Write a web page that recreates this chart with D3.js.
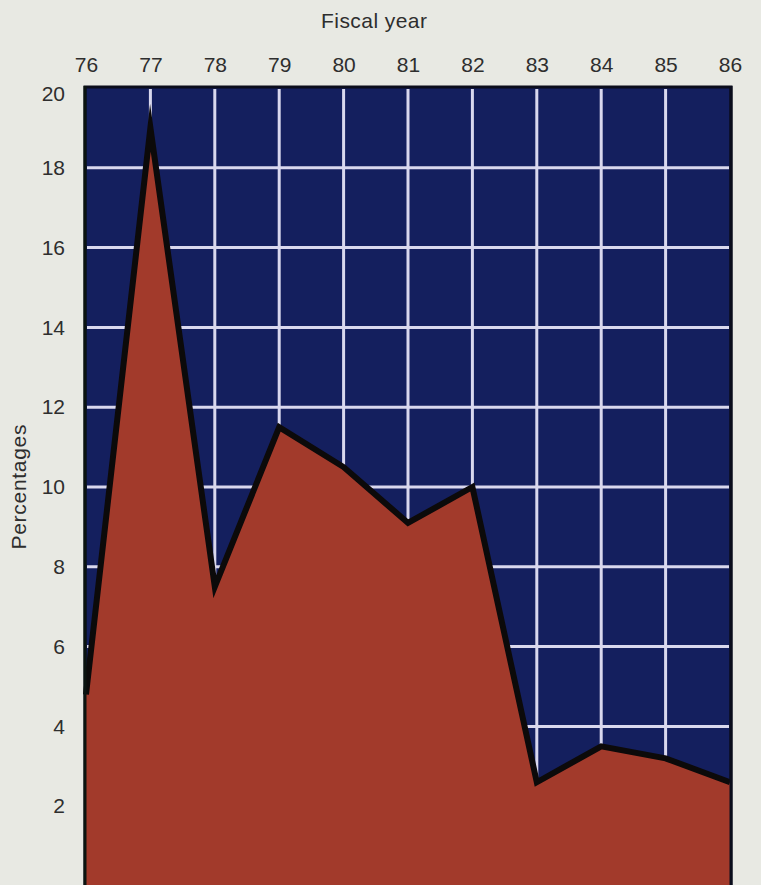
<!DOCTYPE html>
<html>
<head>
<meta charset="utf-8">
<script src="https://cdn.jsdelivr.net/npm/d3@7"></script>
<style>
  html, body { margin: 0; padding: 0; background: #e8e9e3; }
  svg { display: block; }
  text { font-family: "Liberation Sans", Arial, sans-serif; fill: #2e2e2e; }
</style>
</head>
<body>
<svg id="chart" width="761" height="885"></svg>
<script>
// Fiscal years shown along the top axis
const years = [76, 77, 78, 79, 80, 81, 82, 83, 84, 85, 86];
// Percentage for each fiscal year
const percentages = [4.8, 19.0, 7.5, 11.5, 10.5, 9.1, 10.0, 2.6, 3.5, 3.2, 2.6];
// Labelled ticks on the vertical axis
const yTicks = [2, 4, 6, 8, 10, 12, 14, 16, 18, 20];

const svg = d3.select("#chart");
const plotLeft = 86, plotRight = 730, plotTop = 88, plotBottom = 886;

const x = d3.scaleLinear().domain([76, 86]).range([plotLeft, plotRight]);
const y = d3.scaleLinear().domain([0, 20]).range([plotBottom, plotTop]);

// navy plot panel with dark frame
svg.append("rect")
  .attr("x", plotLeft - 1).attr("y", plotTop - 1)
  .attr("width", plotRight - plotLeft + 2).attr("height", plotBottom - plotTop + 10)
  .attr("fill", "#141f5e")
  .attr("stroke", "#0b0d1c").attr("stroke-width", 3);

// grid
const grid = svg.append("g").attr("stroke", "#d9d8ee").attr("stroke-width", 3);
grid.selectAll("line.v").data(years.slice(1, -1)).join("line")
  .attr("class", "v")
  .attr("x1", d => x(d)).attr("x2", d => x(d))
  .attr("y1", plotTop + 1).attr("y2", plotBottom);
grid.selectAll("line.h").data(yTicks.filter(d => d < 20)).join("line")
  .attr("class", "h")
  .attr("x1", plotLeft + 1).attr("x2", plotRight - 1)
  .attr("y1", d => y(d)).attr("y2", d => y(d));

const pts = years.map((yr, i) => ({ yr, v: percentages[i] }));

// filled area
const area = d3.area().x(d => x(d.yr)).y0(plotBottom + 10).y1(d => y(d.v));
svg.append("path").datum(pts)
  .attr("d", area)
  .attr("fill", "#a23a2b");

// outline of the area
const line = d3.line().x(d => x(d.yr)).y(d => y(d.v));
svg.append("path").datum(pts)
  .attr("d", line)
  .attr("fill", "none")
  .attr("stroke", "#0c0a0a")
  .attr("stroke-width", 6)
  .attr("stroke-linejoin", "miter")
  .attr("stroke-miterlimit", 10);

// frame edges on top
svg.append("line").attr("x1", plotLeft - 1).attr("x2", plotLeft - 1)
  .attr("y1", plotTop - 2).attr("y2", 885)
  .attr("stroke", "#0b1410").attr("stroke-width", 3);
svg.append("line").attr("x1", plotRight + 1).attr("x2", plotRight + 1)
  .attr("y1", plotTop - 2).attr("y2", 885)
  .attr("stroke", "#0b0d1c").attr("stroke-width", 3);

// top axis (fiscal year)
const xAxis = d3.axisTop(x).tickValues(years).tickSize(0).tickPadding(0);
const gx = svg.append("g").attr("transform", `translate(0, ${plotTop - 16})`).call(xAxis);
gx.select(".domain").remove();
gx.attr("font-size", 21).attr("font-family", null);
gx.selectAll("text").attr("fill", "#2e2e2e");

// left axis (percentages)
const yAxis = d3.axisLeft(y).tickValues(yTicks).tickSize(0).tickPadding(0);
const gy = svg.append("g").attr("transform", `translate(${plotLeft - 21}, 0)`).call(yAxis);
gy.select(".domain").remove();
gy.attr("font-size", 21).attr("font-family", null);
gy.selectAll("text").attr("fill", "#2e2e2e");
// nudge the top label down so it stays inside the frame height
gy.selectAll(".tick").filter(d => d === 20).select("text").attr("dy", "0.6em");

// titles
svg.append("text")
  .attr("x", 374).attr("y", 28)
  .attr("text-anchor", "middle")
  .attr("font-size", 21)
  .attr("textLength", 106)
  .attr("lengthAdjust", "spacing")
  .text("Fiscal year");
svg.append("text")
  .attr("transform", "translate(26, 487) rotate(-90)")
  .attr("text-anchor", "middle")
  .attr("font-size", 21)
  .attr("textLength", 125)
  .attr("lengthAdjust", "spacing")
  .text("Percentages");
</script>
</body>
</html>
